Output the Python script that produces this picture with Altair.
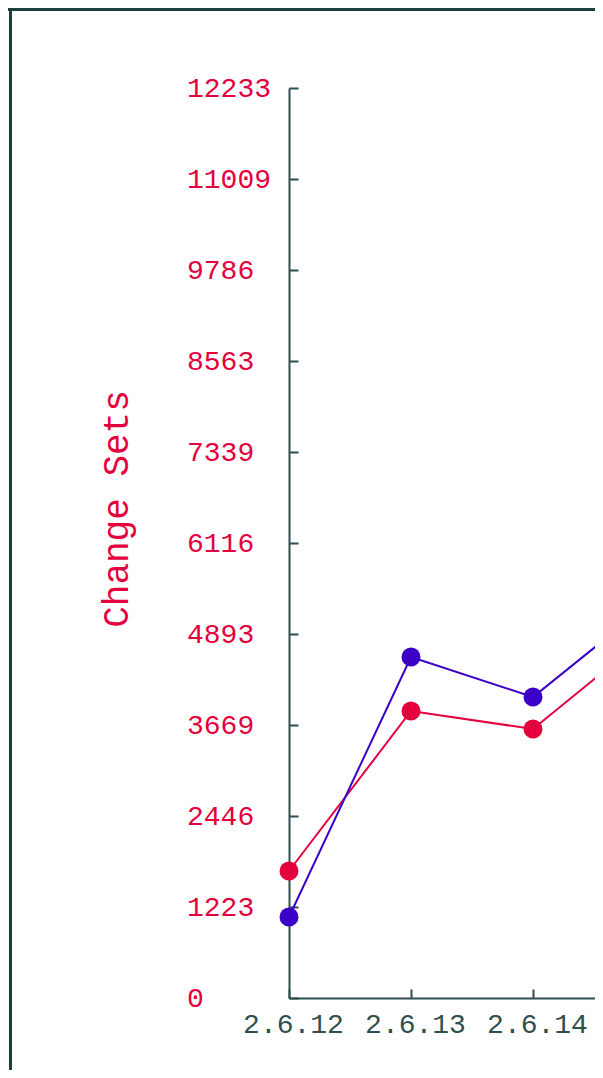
import altair as alt
import pandas as pd

# ---- data ----
versions = ["2.6.12", "2.6.13", "2.6.14", "2.6.15"]
visible_ticks = ["2.6.12", "2.6.13", "2.6.14"]
series_names = ["Series A", "Series B"]
red_values = [1707, 3858, 3616, 4950]
blue_values = [1089, 4584, 4046, 5365]
y_ticks = [0, 1223, 2446, 3669, 4893, 6116, 7339, 8563, 9786, 11009, 12233]
y_max = 12233

RED = "#e3003c"
BLUE = "#3a00c8"
AXIS = "#2f4f4f"
FRAME = "#1f3d3d"
FONT = "Liberation Mono"

rows = []
for v, r, b in zip(versions, red_values, blue_values):
    rows.append({"version": v, "series": series_names[0], "value": r})
    rows.append({"version": v, "series": series_names[1], "value": b})
df = pd.DataFrame(rows)

x_enc = alt.X(
    "version:O",
    sort=versions,
    scale=alt.Scale(type="point", domain=versions, range=[0, 366], padding=0),
    axis=alt.Axis(
        values=visible_ticks,
        title=None,
        labelAngle=0,
        labelFont=FONT,
        labelFontSize=28,
        labelColor=AXIS,
        labelPadding=21.5,
        labelOffset=4,
        labelBaseline="top",
        domainColor=AXIS,
        domainWidth=2,
        tickColor=AXIS,
        tickWidth=2,
        tickSize={"expr": "-9"},
        grid=False,
    ),
)
y_enc = alt.Y(
    "value:Q",
    scale=alt.Scale(domain=[0, y_max], nice=False, zero=True),
    axis=alt.Axis(
        values=y_ticks,
        format="d",
        title="Change Sets",
        titleFont=FONT,
        titleFontSize=36,
        titleFontWeight="normal",
        titleColor=RED,
        titleX=-162,
        titleY=420.5,
        titleAlign="center",
        titleBaseline="alphabetic",
        labelFont=FONT,
        labelFontSize=28,
        labelColor=RED,
        labelAlign="left",
        labelBaseline="middle",
        labelPadding=111.5,
        domainColor=AXIS,
        domainWidth=2,
        tickColor=AXIS,
        tickWidth=2,
        tickSize={"expr": "-9"},
        grid=False,
    ),
)
color_enc = alt.Color(
    "series:N",
    scale=alt.Scale(domain=series_names, range=[RED, BLUE]),
    legend=None,
)

base = alt.Chart(df).encode(x=x_enc, y=y_enc, color=color_enc, detail="series:N")
lines = base.mark_line(strokeWidth=2)
points = base.mark_circle(size=360, opacity=1)

one = alt.Data(values=[{"k": 0}])
frame_left = alt.Chart(one).mark_rule(color=FRAME, strokeWidth=3).encode(
    x=alt.value(-278.5), y=alt.value(-80), y2=alt.value(1000)
)
frame_top = alt.Chart(one).mark_rule(color=FRAME, strokeWidth=3).encode(
    x=alt.value(-281), x2=alt.value(330), y=alt.value(-78.5)
)

chart = (
    alt.layer(frame_left, frame_top, lines, points)
    .properties(
        width=306,
        height=910,
        autosize=alt.AutoSizeParams(type="none"),
        padding={"left": 281, "top": 80, "right": 0, "bottom": 72},
        background="white",
    )
    .configure_view(strokeWidth=0)
)

chart.save("out.html", embed_options={"renderer": "svg", "actions": False})
